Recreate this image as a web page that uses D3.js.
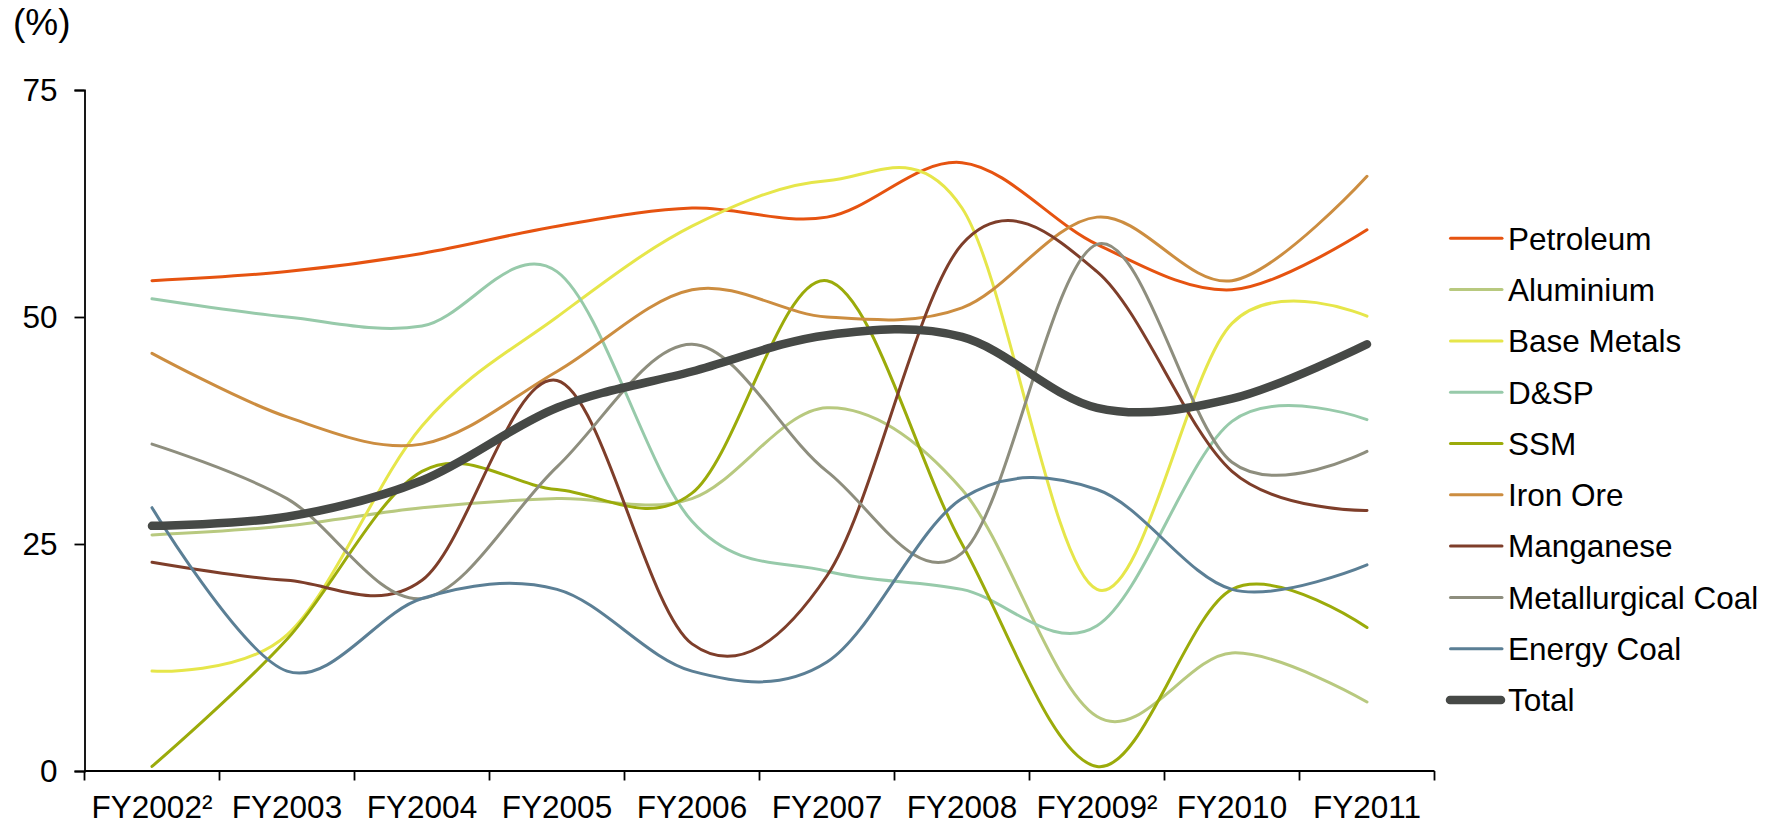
<!DOCTYPE html>
<html>
<head>
<meta charset="utf-8">
<script src="https://cdn.jsdelivr.net/npm/d3@7"></script>
<style>
  html, body { margin: 0; padding: 0; background: #ffffff; }
  svg { display: block; }
  text { font-family: "Liberation Sans", Arial, sans-serif; fill: #000; }
</style>
</head>
<body>
<svg id="chart" width="1778" height="824"></svg>
<script>
const categories = ["FY2002²", "FY2003", "FY2004", "FY2005", "FY2006", "FY2007", "FY2008", "FY2009²", "FY2010", "FY2011"];
const yTicks = [0, 25, 50, 75];
const yUnit = "(%)";

const seriesNames = ["Petroleum", "Aluminium", "Base Metals", "D&SP", "SSM", "Iron Ore", "Manganese", "Metallurgical Coal", "Energy Coal", "Total"];
const petroleum  = [54, 55, 57, 60, 62, 61, 67, 58, 53, 59.6];
const aluminium  = [26, 27, 29, 30, 30, 40, 31, 6, 13, 7.6];
const baseMetals = [11, 15, 38, 50, 60, 65, 62, 20, 49.3, 50.1];
const dsp        = [52, 50, 49, 55, 27.5, 22, 20, 16, 38.5, 38.7];
const ssm        = [0.5, 14.5, 33, 31, 30.6, 54, 25, 0.5, 20, 15.8];
const ironOre    = [46, 39, 36, 44, 53, 50, 51, 61, 54, 65.5];
const manganese  = [23, 21, 21, 43, 14, 21.5, 58, 55, 33, 28.7];
const metCoal    = [36, 30, 19, 33.5, 47, 33, 24, 58, 34, 35.2];
const energyCoal = [29, 11, 19, 20, 11, 12, 30, 31, 20, 22.7];
const total      = [27, 28, 32, 40, 44, 48, 47.8, 40, 41, 47];

const seriesValues = [petroleum, aluminium, baseMetals, dsp, ssm, ironOre, manganese, metCoal, energyCoal, total];
const colors = ["#E65310", "#B8C97F", "#E6E64A", "#97CAAA", "#9BAB0A", "#CC8D40", "#7E3E2A", "#8E8E7E", "#5B7F95", "#464946"];
const widths = [3, 3, 3, 3, 3, 3, 3, 3, 3, 8.5];

const svg = d3.select("#chart");
const plot = { left: 84.5, right: 1434.5, top: 90, bottom: 771 };

const x = d3.scaleBand().domain(categories).range([plot.left, plot.right]).padding(0);
const y = d3.scaleLinear().domain([0, 75]).range([plot.bottom, plot.top]);
const cx = c => x(c) + x.bandwidth() / 2;

// Y axis
const yAxis = d3.axisLeft(y).tickValues(yTicks).tickSize(10).tickPadding(17).tickFormat(d3.format("d"));
const gy = svg.append("g").attr("transform", `translate(${plot.left},0)`).call(yAxis);
gy.select(".domain").attr("stroke", "#000").attr("stroke-width", 1.8);
gy.selectAll(".tick line").attr("stroke", "#000").attr("stroke-width", 1.8);
gy.selectAll(".tick text").attr("font-size", 31.5).attr("font-family", "'Liberation Sans', Arial, sans-serif").attr("fill", "#000");

// X axis (ticks at band boundaries)
const gx = svg.append("g").attr("transform", `translate(0,${plot.bottom})`);
gx.append("line").attr("x1", plot.left).attr("x2", plot.right).attr("y1", 0).attr("y2", 0)
  .attr("stroke", "#000").attr("stroke-width", 1.8);
const bounds = categories.map(c => x(c)).concat([plot.right]);
gx.selectAll("line.tick").data(bounds).enter().append("line").attr("class", "tick")
  .attr("x1", d => d).attr("x2", d => d).attr("y1", 0).attr("y2", 9.5)
  .attr("stroke", "#000").attr("stroke-width", 1.8);
gx.selectAll("text").data(categories).enter().append("text")
  .attr("x", d => cx(d)).attr("y", 47).attr("text-anchor", "middle")
  .attr("font-size", 31.5).text(d => d);

// unit label
svg.append("text").attr("x", 13).attr("y", 35).attr("font-size", 37).text(yUnit);

// lines
const line = d3.line().x((d, i) => cx(categories[i])).y(d => y(d)).curve(d3.curveCardinal.tension(0));
const gl = svg.append("g");
seriesValues.forEach((vals, k) => {
  gl.append("path").datum(vals).attr("d", line)
    .attr("fill", "none").attr("stroke", colors[k]).attr("stroke-width", widths[k])
    .attr("stroke-linecap", "round").attr("stroke-linejoin", "round");
});

// legend
const lg = svg.append("g");
const legendTop = 238.3, legendStep = 51.3;
seriesNames.forEach((name, k) => {
  const ly = legendTop + k * legendStep;
  const isTotal = k === seriesNames.length - 1;
  lg.append("line")
    .attr("x1", isTotal ? 1450 : 1450.5).attr("x2", isTotal ? 1501 : 1502)
    .attr("y1", ly).attr("y2", ly)
    .attr("stroke", colors[k]).attr("stroke-width", widths[k]).attr("stroke-linecap", "round");
  lg.append("text").attr("x", 1508).attr("y", ly).attr("dy", "0.36em")
    .attr("font-size", 31.5).text(name);
});
</script>
</body>
</html>
